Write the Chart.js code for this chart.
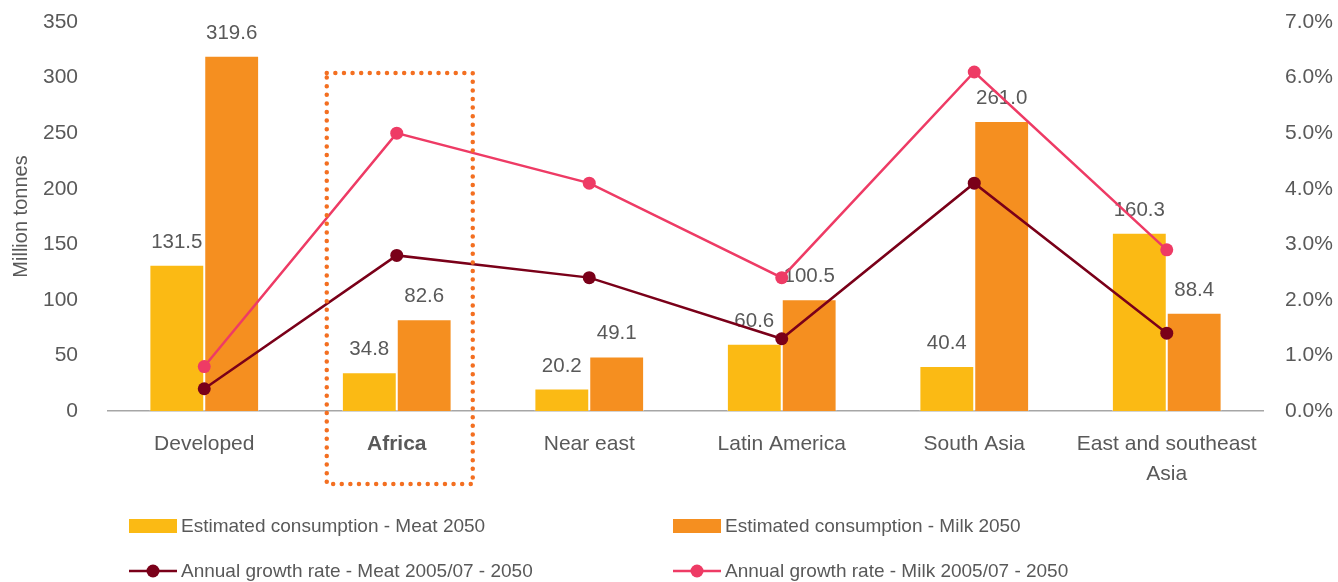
<!DOCTYPE html>
<html lang="en">
<head>
    <meta charset="UTF-8">
    <title>Meat and milk consumption 2050</title>
    <script src="https://cdn.jsdelivr.net/npm/chart.js"></script>
    <style>
        body { margin: 0; background: #fff; }
        #wrap { width: 1338px; height: 582px; position: relative; }
    </style>
</head>
<body>
<div id="wrap"><canvas id="chart"></canvas></div>

<script>
    // data
    const categories = ['Developed', 'Africa', 'Near east', 'Latin America', 'South Asia', ['East and southeast', 'Asia']];
    const meatConsumption = [131.5, 34.8, 20.2, 60.6, 40.4, 160.3];
    const milkConsumption = [319.6, 82.6, 49.1, 100.5, 261.0, 88.4];
    const meatGrowth = [0.4, 2.8, 2.4, 1.3, 4.1, 1.4];
    const milkGrowth = [0.8, 5.0, 4.1, 2.4, 6.1, 2.9];
    const highlighted = 1; // Africa

    const grey = '#595959';
    const fontFamily = '"Liberation Sans", Arial, Helvetica, sans-serif';

    // value labels above the bars, drawn before the lines
    const barLabels = {
        id: 'barLabels',
        afterDatasetDraw(chart, args) {
            const meta = args.meta;
            if (meta.type !== 'bar') return;
            const ctx = chart.ctx;
            ctx.save();
            ctx.font = '20.5px ' + fontFamily;
            ctx.fillStyle = grey;
            ctx.textAlign = 'center';
            ctx.textBaseline = 'alphabetic';
            meta.data.forEach((bar, i) => {
                const v = chart.data.datasets[args.index].data[i];
                ctx.fillText(v.toFixed(1), bar.x, bar.y - 17);
            });
            ctx.restore();
        }
    };

    // dotted box round Africa and the legend in two columns
    const extras = {
        id: 'extras',
        afterDraw(chart) {
            const ctx = chart.ctx;
            const area = chart.chartArea;
            const xc = chart.scales.x.getPixelForValue(highlighted);

            ctx.save();
            ctx.strokeStyle = '#F36F21';
            ctx.lineWidth = 4.5;
            ctx.lineCap = 'round';
            ctx.setLineDash([0, 8.6]);
            ctx.strokeRect(xc - 70, area.top + 51, 146, area.bottom - area.top + 22);
            ctx.restore();

            const cols = [129, 673];
            const rows = [526, 571];
            ctx.save();
            ctx.font = '19px ' + fontFamily;
            ctx.textBaseline = 'middle';
            chart.data.datasets.forEach((ds, i) => {
                const x = cols[i % 2];
                const y = rows[Math.floor(i / 2)];
                if (ds.type === 'line') {
                    ctx.strokeStyle = ds.borderColor;
                    ctx.lineWidth = 2.5;
                    ctx.beginPath();
                    ctx.moveTo(x, y);
                    ctx.lineTo(x + 48, y);
                    ctx.stroke();
                    ctx.fillStyle = ds.backgroundColor;
                    ctx.beginPath();
                    ctx.arc(x + 24, y, 6.5, 0, Math.PI * 2);
                    ctx.fill();
                } else {
                    ctx.fillStyle = ds.backgroundColor;
                    ctx.fillRect(x, y - 7, 48, 14);
                }
                ctx.fillStyle = grey;
                ctx.fillText(ds.label, x + 52, y + 1);
            });
            ctx.restore();
        }
    };

    const ctx = document.getElementById('chart').getContext('2d');
    new Chart(ctx, {
        type: 'bar',
        data: {
            labels: categories,
            datasets: [
                {
                    label: 'Estimated consumption - Meat 2050',
                    data: meatConsumption,
                    backgroundColor: '#FBBA14',
                    borderColor: 'rgba(255,255,255,0.45)',
                    borderWidth: 1,
                    yAxisID: 'y',
                    order: 2
                },
                {
                    label: 'Estimated consumption - Milk 2050',
                    data: milkConsumption,
                    backgroundColor: '#F58F20',
                    borderColor: 'rgba(255,255,255,0.45)',
                    borderWidth: 1,
                    yAxisID: 'y',
                    order: 2
                },
                {
                    type: 'line',
                    label: 'Annual growth rate - Meat 2005/07 - 2050',
                    data: meatGrowth,
                    borderColor: '#7A0019',
                    backgroundColor: '#7A0019',
                    borderWidth: 2.5,
                    pointRadius: 6.5,
                    pointBorderWidth: 0,
                    yAxisID: 'y1',
                    order: 1
                },
                {
                    type: 'line',
                    label: 'Annual growth rate - Milk 2005/07 - 2050',
                    data: milkGrowth,
                    borderColor: '#EE3B65',
                    backgroundColor: '#EE3B65',
                    borderWidth: 2.5,
                    pointRadius: 6.5,
                    pointBorderWidth: 0,
                    yAxisID: 'y1',
                    order: 0
                }
            ]
        },
        options: {
            responsive: true,
            maintainAspectRatio: false,
            animation: false,
            layout: { padding: { top: 22, bottom: 91, left: 0, right: 0 } },
            datasets: {
                bar: { categoryPercentage: 0.57, barPercentage: 1.0 }
            },
            plugins: {
                legend: { display: false },
                tooltip: { enabled: false }
            },
            scales: {
                x: {
                    grid: { display: false, drawTicks: false },
                    border: { display: true, color: '#A6A6A6', width: 1.5 },
                    ticks: {
                        color: grey,
                        padding: 19,
                        maxRotation: 0,
                        autoSkip: false,
                        font: (c) => ({
                            family: fontFamily,
                            size: 21,
                            lineHeight: 1.4,
                            weight: c.index === highlighted ? 'bold' : 'normal'
                        })
                    },
                    afterFit(scale) {
                        scale.height = 80;
                        scale.paddingTop = 0;
                        scale.paddingBottom = 0;
                    }
                },
                y: {
                    position: 'left',
                    min: 0,
                    max: 350,
                    grid: { display: false, drawTicks: false },
                    border: { display: false },
                    ticks: {
                        stepSize: 50,
                        color: grey,
                        padding: 30,
                        font: { family: fontFamily, size: 21 }
                    },
                    title: {
                        display: true,
                        text: 'Million tonnes',
                        color: grey,
                        padding: { top: 9, bottom: 0 },
                        font: { family: fontFamily, size: 20 }
                    },
                    afterFit(scale) {
                        scale.width = 108;
                        scale.paddingTop = 0;
                        scale.paddingBottom = 0;
                    }
                },
                y1: {
                    position: 'right',
                    min: 0,
                    max: 7,
                    grid: { display: false, drawTicks: false },
                    border: { display: false },
                    ticks: {
                        stepSize: 1,
                        color: grey,
                        padding: 22,
                        font: { family: fontFamily, size: 21 },
                        callback: (v) => v.toFixed(1) + '%'
                    },
                    afterFit(scale) {
                        scale.width = 75;
                        scale.paddingTop = 0;
                        scale.paddingBottom = 0;
                    }
                }
            }
        },
        plugins: [barLabels, extras]
    });
</script>
</body>
</html>
